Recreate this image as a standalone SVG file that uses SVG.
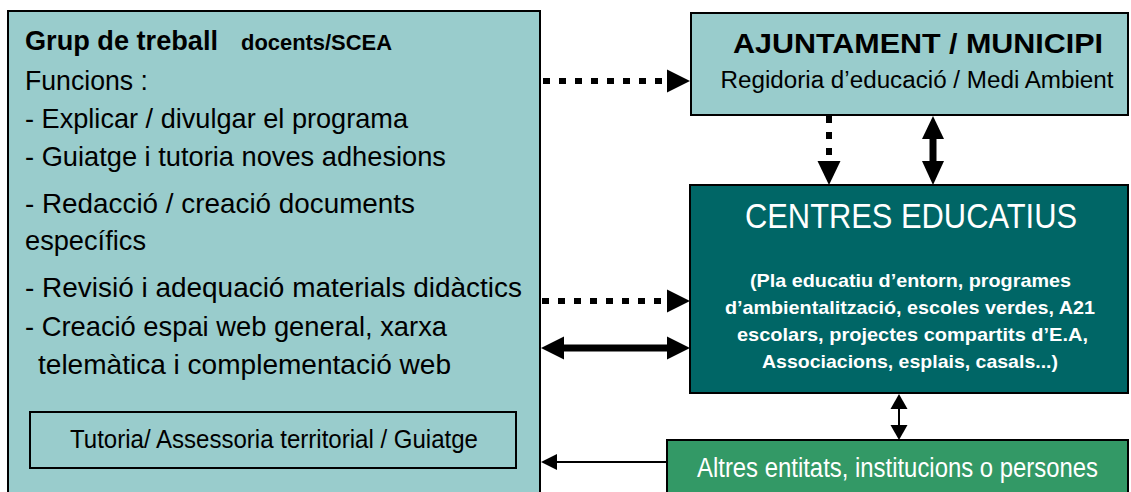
<svg xmlns="http://www.w3.org/2000/svg" width="1131" height="492" viewBox="0 0 1131 492">
<style>
text{font-family:"Liberation Sans Narrow","Liberation Sans",Arial,sans-serif;}
.box{stroke:#000;stroke-width:2;}
.light{fill:#99CCCC;}
.dark{fill:#006666;}
.green{fill:#339966;}
.t{font-size:27.5px;fill:#000;}
.w{fill:#fff;}
.dot{stroke:#000;stroke-width:6;stroke-dasharray:7 9;fill:none;}
.thick{stroke:#000;stroke-width:7;fill:none;}
.thin{stroke:#000;stroke-width:2;fill:none;}
.head{fill:#000;}
</style>
<g id="grup">
<rect class="box light" x="8" y="11" width="532" height="495"/>
<text x="25" y="50" font-size="27" font-weight="bold" textLength="193" lengthAdjust="spacingAndGlyphs">Grup de treball</text>
<text x="241" y="50" font-size="22" font-weight="bold" textLength="151" lengthAdjust="spacingAndGlyphs">docents/SCEA</text>
<text class="t" x="25" y="90" textLength="123" lengthAdjust="spacingAndGlyphs">Funcions :</text>
<text class="t" x="25" y="128" textLength="383" lengthAdjust="spacingAndGlyphs">- Explicar / divulgar el programa</text>
<text class="t" x="25" y="166" textLength="421" lengthAdjust="spacingAndGlyphs">- Guiatge i tutoria noves adhesions</text>
<text class="t" x="25" y="213" font-size="28" textLength="390" lengthAdjust="spacingAndGlyphs">- Redacció / creació documents</text>
<text class="t" x="25" y="250" font-size="28" textLength="121" lengthAdjust="spacingAndGlyphs">específics</text>
<text class="t" x="25" y="297" font-size="28" textLength="497" lengthAdjust="spacingAndGlyphs">- Revisió i adequació materials didàctics</text>
<text class="t" x="25" y="336" textLength="422" lengthAdjust="spacingAndGlyphs">- Creació espai web general, xarxa</text>
<text class="t" x="38" y="374" textLength="413" lengthAdjust="spacingAndGlyphs">telemàtica  i complementació web</text>
</g>
<g id="tutoria">
<rect class="box" x="30" y="412" width="486" height="56" fill="none"/>
<text x="70" y="448" font-size="25.5" textLength="408" lengthAdjust="spacingAndGlyphs">Tutoria/ Assessoria territorial / Guiatge</text>
</g>
<g id="ajuntament">
<rect class="box light" x="691" y="13" width="437" height="102"/>
<text x="918" y="53" font-size="28" font-weight="bold" text-anchor="middle" textLength="370" lengthAdjust="spacingAndGlyphs">AJUNTAMENT / MUNICIPI</text>
<text x="917" y="88" font-size="23.5" text-anchor="middle" textLength="393" lengthAdjust="spacingAndGlyphs">Regidoria d’educació / Medi Ambient</text>
</g>
<g id="centres">
<rect class="box dark" x="690" y="185" width="438" height="208"/>
<text class="w" x="911" y="228" font-size="34.5" text-anchor="middle" textLength="332" lengthAdjust="spacingAndGlyphs">CENTRES EDUCATIUS</text>
<text class="w" x="910.5" y="287" font-size="19" font-weight="bold" text-anchor="middle" textLength="321" lengthAdjust="spacingAndGlyphs">(Pla educatiu d’entorn, programes</text>
<text class="w" x="910" y="314" font-size="19" font-weight="bold" text-anchor="middle" textLength="370" lengthAdjust="spacingAndGlyphs">d’ambientalització, escoles verdes, A21</text>
<text class="w" x="912.5" y="341" font-size="19" font-weight="bold" text-anchor="middle" textLength="351" lengthAdjust="spacingAndGlyphs">escolars, projectes compartits d’E.A,</text>
<text class="w" x="910" y="368" font-size="19" font-weight="bold" text-anchor="middle" textLength="296" lengthAdjust="spacingAndGlyphs">Associacions, esplais, casals...)</text>
</g>
<g id="altres">
<rect class="box green" x="667" y="440" width="461" height="53"/>
<text class="w" x="897.5" y="477" font-size="27" text-anchor="middle" textLength="401" lengthAdjust="spacingAndGlyphs">Altres entitats, institucions o persones</text>
</g>
<g id="connectors">
<line class="dot" x1="543" y1="81" x2="664" y2="81"/>
<polygon class="head" points="667,69.5 690,81 667,92.5"/>
<line class="dot" x1="829" y1="116" x2="829" y2="158"/>
<polygon class="head" points="817.5,161 840.5,161 829,185"/>
<line class="thick" x1="933" y1="136" x2="933" y2="164"/>
<polygon class="head" points="933,116 944,139 922,139"/>
<polygon class="head" points="922,161 944,161 933,185"/>
<line class="dot" x1="542" y1="301" x2="664" y2="301"/>
<polygon class="head" points="667,289.5 690,301 667,312.5"/>
<line class="thick" x1="561" y1="348" x2="670" y2="348"/>
<polygon class="head" points="541,348 564,336.5 564,359.5"/>
<polygon class="head" points="667,336.5 690,348 667,359.5"/>
<line class="thin" x1="899" y1="405" x2="899" y2="428"/>
<polygon class="head" points="899,394 907.5,409 890.5,409"/>
<polygon class="head" points="890.5,425 907.5,425 899,440"/>
<line class="thin" x1="555" y1="462" x2="667" y2="462"/>
<polygon class="head" points="541,462 557,454 557,470"/>
</g>
</svg>
